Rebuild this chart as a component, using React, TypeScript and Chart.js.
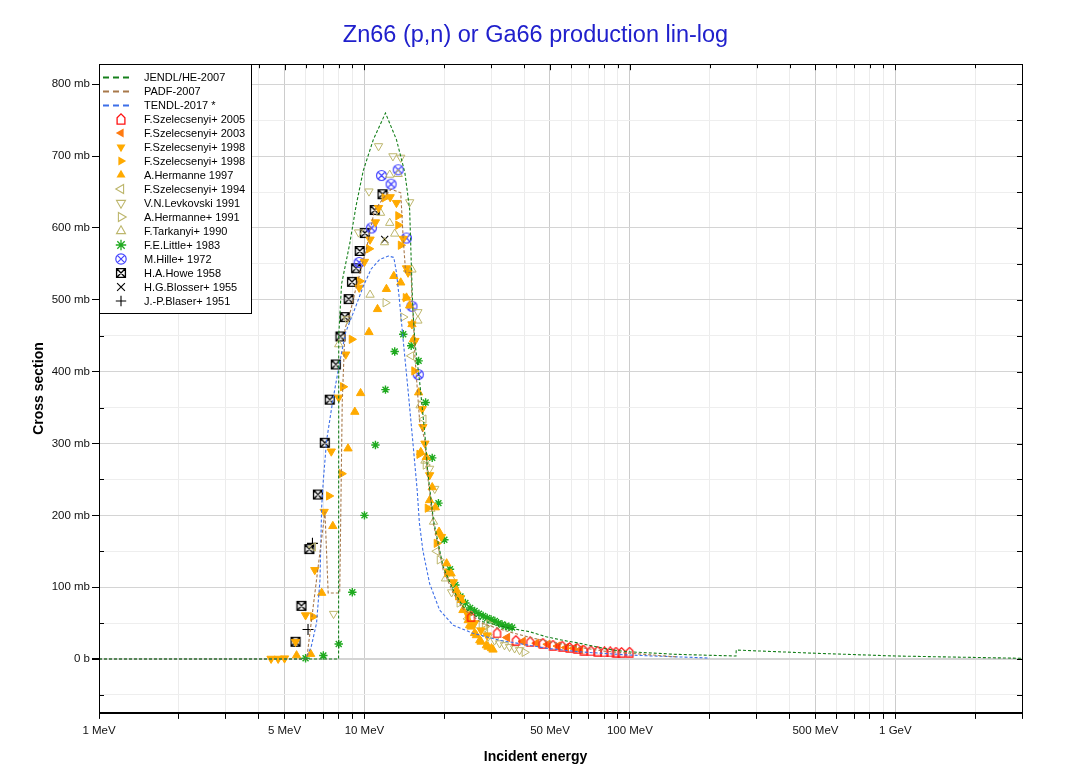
import React, { useEffect, useRef } from 'react';
import { Chart, registerables } from 'chart.js';

Chart.register(...registerables);

const FONT = "'Liberation Sans', Arial, Helvetica, sans-serif";
Chart.defaults.font.family = FONT;

// ---------- texts ----------
const titleText = 'Zn66 (p,n) or Ga66 production lin-log';
const xAxisTitle = 'Incident energy';
const yAxisTitle = 'Cross section';

// ---------- axes ----------
const xMin = 1;
const xMax = 3000;
const yMin = -75;
const yMax = 828;
const xTickValues = [1, 2, 3, 4, 5, 6, 7, 8, 9, 10, 20, 30, 40, 50, 60, 70, 80, 90, 100, 200, 300, 400, 500, 600, 700, 800, 900, 1000, 2000, 3000];
const xLabelValues = [1, 5, 10, 50, 100, 500, 1000];
const xLabelTexts = ['1 MeV', '5 MeV', '10 MeV', '50 MeV', '100 MeV', '500 MeV', '1 GeV'];
const yTickValues = [-50, 0, 50, 100, 150, 200, 250, 300, 350, 400, 450, 500, 550, 600, 650, 700, 750, 800];
const yLabelValues = [0, 100, 200, 300, 400, 500, 600, 700, 800];
const yLabelTexts = ['0 b', '100 mb', '200 mb', '300 mb', '400 mb', '500 mb', '600 mb', '700 mb', '800 mb'];

// ---------- evaluations [E (MeV), sigma (mb)] ----------
const jendlHe2007 = [
  [1, 0], [7.99, 0], [8.0, 450], [8.2, 522], [8.8, 578], [9.3, 631], [9.9, 680], [10.8, 723], [12.0, 760],
  [13.2, 723], [14.2, 677], [14.8, 626], [15.0, 555], [15.2, 490], [15.5, 440], [16.15, 385], [16.9, 312],
  [17.3, 262], [18.2, 193], [19.8, 128], [21.6, 96], [23.5, 73], [28, 52], [35.2, 43], [41.9, 38], [48.4, 31],
  [56, 26], [64.6, 22], [74.6, 17], [86.2, 12.5], [100, 10], [150, 6.5], [251, 4.2], [251.5, 12.5], [500, 8],
  [1000, 4.2], [3000, 1],
];
const padf2007 = [
  [1, 0], [6.06, 0], [7.1, 205], [7.3, 92], [8.07, 92], [8.25, 360], [8.45, 460], [8.8, 480], [9.3, 517],
  [10.2, 573], [10.9, 624], [11.8, 642], [12.6, 654], [13.7, 649], [14.0, 584], [14.3, 538], [15.0, 538],
  [15.1, 500], [15.3, 470], [15.5, 420], [16.15, 330], [16.9, 305], [17.3, 255], [18.2, 188], [19.8, 124],
  [21.6, 92], [23.5, 70], [28, 49], [35, 38], [42, 30], [50, 24], [65, 16], [80, 11], [100, 8], [150, 3],
];
const tendl2017 = [
  [1, 0], [6.0, 0], [6.3, 17], [6.6, 50], [6.8, 110], [6.9, 212], [7.0, 249], [7.2, 304], [7.6, 360], [8.0, 406],
  [8.5, 455], [9.3, 492], [9.9, 519], [10.6, 543], [11.4, 556], [12.3, 561], [12.9, 559], [13.2, 538],
  [13.5, 505], [14.0, 443], [14.6, 374], [15.2, 304], [15.8, 235], [16.1, 190], [16.6, 151], [17.6, 105],
  [19.2, 68], [21.6, 47], [25.6, 36], [32.3, 26], [36.3, 23], [48.4, 15], [64.6, 10], [100, 5.5], [150, 3], [200, 1.4],
];

// ---------- experiments [E (MeV), sigma (mb)] ----------
const szelecsenyi2005 = [
  [25.2, 59], [31.6, 36.5], [37.2, 26], [42.1, 24], [47, 22], [51.3, 19.4], [55.6, 18], [59.3, 16], [63.3, 15],
  [67, 12.5], [71.3, 11.5], [75.6, 11], [80.2, 10], [84.3, 10], [88.6, 9.7], [93, 9.3], [99.7, 9.7],
];
const szelecsenyi2003 = [
  [34.5, 30], [39.5, 24.5], [44.5, 22], [49, 20.5], [53.5, 18], [57.5, 16], [61.5, 15], [65, 13],
];
const szelecsenyi1998a = [
  [4.45, 0.5], [4.73, 0.5], [5.0, 1], [5.5, 24], [6.0, 61], [6.5, 124], [7.05, 205], [7.5, 289], [8.0, 364],
  [8.5, 424], [9.55, 517], [10.0, 553], [10.5, 584], [11.0, 608], [11.3, 628], [12.5, 643], [13.2, 635],
  [14.0, 585], [14.4, 544], [14.6, 538], [15.1, 466], [15.5, 443], [16.5, 348], [16.6, 323], [16.9, 300],
  [17.6, 256], [19.5, 170], [21.6, 107], [23, 85], [24.5, 62], [26, 50], [27.5, 40], [29, 33],
];
const szelecsenyi1998b = [
  [6.4, 59], [7.35, 227], [8.2, 258], [8.3, 379], [8.95, 445], [9.6, 526], [10.4, 571], [11.9, 642], [13.4, 617],
  [13.4, 604], [13.7, 576], [14.3, 503], [15.4, 401], [16.1, 285], [17.3, 210], [18.7, 161], [20.5, 120],
  [22.5, 88], [24.5, 62],
];
const hermanne1997 = [
  [5.55, 5], [6.27, 7], [6.9, 92], [7.6, 185], [8.67, 293], [9.2, 344], [9.67, 370], [10.4, 455], [11.2, 487],
  [12.1, 515], [12.9, 533], [13.7, 524], [14.4, 503], [14.8, 492], [15.1, 466], [15.3, 445], [16.0, 371],
  [16.3, 288], [17.1, 281], [17.6, 221], [18.0, 239], [18.5, 211], [19.1, 177], [20.4, 133], [21.2, 119],
  [22.2, 96], [23.2, 82], [23.5, 68], [24.6, 54], [24.9, 47], [25.2, 45], [26, 36], [26.4, 33], [27.2, 26],
  [27.5, 24], [28.8, 19], [29.2, 17], [30.1, 15], [30.5, 13],
];
const szelecsenyi1994 = [
  [6.4, 156], [14.6, 540], [15.0, 422], [16.7, 334], [18.7, 150], [24.5, 56], [26.5, 47], [28.5, 42],
];
const levkovski1991 = [
  [7.65, 63], [8.6, 473], [9.5, 594], [10.4, 651], [11.3, 714], [12.8, 700], [13.7, 698], [14.8, 636],
  [15.9, 483], [17.6, 265], [18.4, 237], [21.3, 93], [27.9, 38], [29.2, 31], [30.9, 26], [32.3, 22],
  [33.7, 19.4], [35.2, 17], [36.8, 15], [38.4, 12.5],
];
const hermanne1991 = [
  [12.0, 496], [14.0, 476], [17.0, 270], [19.2, 138], [22.8, 78], [28.4, 45], [29.5, 49], [40.1, 9.3],
];
const tarkanyi1990 = [
  [8.0, 438], [10.5, 507], [11.5, 621], [11.9, 580], [12.45, 607], [12.45, 674], [13.0, 592], [13.4, 675],
  [15.1, 542], [15.9, 471], [16.2, 353], [16.9, 276], [17.8, 209], [18.2, 191], [20.2, 112], [21.2, 113],
];
const little1983 = [
  [6, 1], [7, 5], [8, 21], [9, 93], [10, 200], [11, 298], [12, 375], [13, 428], [14, 452], [15, 436], [16, 415],
  [17, 357], [18, 280], [19, 217], [20, 166], [21, 125], [22, 103], [23, 87], [24, 78], [25, 71], [26, 67],
  [27, 63], [28, 60], [29, 57], [30, 55], [31, 53], [32, 50], [33, 48], [34, 46], [35, 45], [36, 44],
];
const hille1972 = [
  [9.55, 552], [10.62, 600], [11.6, 673], [12.6, 661], [13.4, 681], [14.4, 586], [15.1, 491], [15.95, 396],
];
const howe1958 = [
  [5.5, 24], [5.79, 74], [6.2, 153], [6.68, 229], [7.09, 301], [7.4, 361], [7.8, 410], [8.12, 449], [8.43, 476],
  [8.72, 501], [8.98, 525], [9.3, 544], [9.6, 568], [10.03, 593], [10.93, 625], [11.7, 647],
];
const blosser1955 = [[11.92, 584]];
const blaser1951 = [[6.13, 41], [6.37, 161]];

// ---------- series styles ----------
const lineDefs = [
  { label: 'JENDL/HE-2007', data: jendlHe2007, color: '#16801c' },
  { label: 'PADF-2007', data: padf2007, color: '#a8784a' },
  { label: 'TENDL-2017 *', data: tendl2017, color: '#3d6fe8' },
];
const ORANGE = '#ffaa00';
const OLIVE = '#bdb66c';
const markerDefs = [
  { label: 'F.Szelecsenyi+ 2005', data: szelecsenyi2005, kind: 'house', color: '#ff1010', filled: false },
  { label: 'F.Szelecsenyi+ 2003', data: szelecsenyi2003, kind: 'triLeft', color: '#ff7a10', filled: true },
  { label: 'F.Szelecsenyi+ 1998', data: szelecsenyi1998a, kind: 'triDown', color: ORANGE, filled: true },
  { label: 'F.Szelecsenyi+ 1998', data: szelecsenyi1998b, kind: 'triRight', color: ORANGE, filled: true },
  { label: 'A.Hermanne 1997', data: hermanne1997, kind: 'triUp', color: ORANGE, filled: true },
  { label: 'F.Szelecsenyi+ 1994', data: szelecsenyi1994, kind: 'triLeft', color: OLIVE, filled: false },
  { label: 'V.N.Levkovski 1991', data: levkovski1991, kind: 'triDown', color: OLIVE, filled: false },
  { label: 'A.Hermanne+ 1991', data: hermanne1991, kind: 'triRight', color: OLIVE, filled: false },
  { label: 'F.Tarkanyi+ 1990', data: tarkanyi1990, kind: 'triUp', color: OLIVE, filled: false },
  { label: 'F.E.Little+ 1983', data: little1983, kind: 'star', color: '#1faa1f', filled: false },
  { label: 'M.Hille+ 1972', data: hille1972, kind: 'circX', color: '#4646ff', filled: false },
  { label: 'H.A.Howe 1958', data: howe1958, kind: 'boxX', color: '#000000', filled: false },
  { label: 'H.G.Blosser+ 1955', data: blosser1955, kind: 'x', color: '#000000', filled: false },
  { label: 'J.-P.Blaser+ 1951', data: blaser1951, kind: 'plus', color: '#000000', filled: false },
];

const triRot: any = { triUp: 0, triRight: 90, triDown: 180, triLeft: 270 };

function drawMarker(ctx: any, kind: string, x: number, y: number, color: string, r: number, filled: boolean) {
  ctx.save();
  ctx.translate(x, y);
  ctx.strokeStyle = color;
  ctx.fillStyle = color;
  ctx.lineWidth = 1.1;
  ctx.setLineDash([]);
  ctx.beginPath();
  if (kind in triRot) {
    ctx.rotate((triRot[kind] * Math.PI) / 180);
    for (let k = 0; k < 3; k++) {
      const a = (k * 2 * Math.PI) / 3;
      const px = Math.sin(a) * r;
      const py = -Math.cos(a) * r;
      if (k === 0) ctx.moveTo(px, py);
      else ctx.lineTo(px, py);
    }
    ctx.closePath();
    if (filled) ctx.fill();
    else ctx.stroke();
  } else if (kind === 'house') {
    const w = r * 0.75;
    ctx.moveTo(-w, r);
    ctx.lineTo(-w, -r * 0.25);
    ctx.lineTo(0, -r);
    ctx.lineTo(w, -r * 0.25);
    ctx.lineTo(w, r);
    ctx.closePath();
    ctx.lineWidth = 1.3;
    ctx.stroke();
  } else if (kind === 'circX') {
    ctx.arc(0, 0, r, 0, Math.PI * 2);
    const d = r * 0.7;
    ctx.moveTo(-d, -d); ctx.lineTo(d, d);
    ctx.moveTo(d, -d); ctx.lineTo(-d, d);
    ctx.lineWidth = 1.2;
    ctx.stroke();
  } else if (kind === 'boxX') {
    const d = r * 0.85;
    ctx.rect(-d, -d, 2 * d, 2 * d);
    ctx.moveTo(-d, -d); ctx.lineTo(d, d);
    ctx.moveTo(d, -d); ctx.lineTo(-d, d);
    ctx.lineWidth = 1.3;
    ctx.stroke();
  } else if (kind === 'star') {
    for (let k = 0; k < 4; k++) {
      const a = (k * Math.PI) / 4;
      ctx.moveTo(Math.cos(a) * r, Math.sin(a) * r);
      ctx.lineTo(-Math.cos(a) * r, -Math.sin(a) * r);
    }
    ctx.lineWidth = 1.3;
    ctx.stroke();
  } else if (kind === 'x') {
    const d = r * 0.75;
    ctx.moveTo(-d, -d); ctx.lineTo(d, d);
    ctx.moveTo(d, -d); ctx.lineTo(-d, d);
    ctx.stroke();
  } else if (kind === 'plus') {
    ctx.moveTo(-r, 0); ctx.lineTo(r, 0);
    ctx.moveTo(0, -r); ctx.lineTo(0, r);
    ctx.stroke();
  }
  ctx.restore();
}

function makeImage(kind: string, color: string, size: number, r: number) {
  const c = document.createElement('canvas');
  c.width = size;
  c.height = size;
  const ctx = c.getContext('2d');
  drawMarker(ctx, kind, size / 2, size / 2, color, r, false);
  return c;
}

const frameLegendPlugin = {
  id: 'frameLegend',
  afterDraw(chart: any) {
    const { ctx, chartArea: a, scales } = chart;
    const xs = scales.x;
    const ys = scales.y;
    ctx.save();
    ctx.strokeStyle = '#000';
    ctx.lineWidth = 1;
    ctx.setLineDash([]);
    ctx.beginPath();
    xTickValues.forEach((v) => {
      const px = Math.round(xs.getPixelForValue(v)) + 0.5;
      const len = xLabelValues.includes(v) ? 6 : 4;
      ctx.moveTo(px, a.top);
      ctx.lineTo(px, a.top + len);
    });
    yTickValues.forEach((v) => {
      const py = Math.round(ys.getPixelForValue(v)) + 0.5;
      ctx.moveTo(a.right, py);
      ctx.lineTo(a.right - 5, py);
      if (v % 100 !== 0) {
        ctx.moveTo(a.left, py);
        ctx.lineTo(a.left + 5, py);
      }
    });
    ctx.stroke();

    // legend box
    const L = Math.round(a.left);
    const T = Math.round(a.top);
    const W = 152;
    const H = 249;
    ctx.fillStyle = '#ffffff';
    ctx.fillRect(L, T, W, H);
    ctx.strokeStyle = '#000';
    ctx.strokeRect(L + 0.5, T + 0.5, W, H);
    ctx.font = `11px ${FONT}`;
    ctx.textBaseline = 'middle';
    ctx.textAlign = 'left';
    const items: any[] = [
      ...lineDefs.map((d) => ({ ...d, line: true })),
      ...markerDefs.map((d) => ({ ...d, line: false })),
    ];
    items.forEach((it, i) => {
      const y = T + 13 + 14 * i;
      if (it.line) {
        ctx.save();
        ctx.strokeStyle = it.color;
        ctx.lineWidth = 1.8;
        ctx.setLineDash([6, 4]);
        ctx.beginPath();
        ctx.moveTo(L + 4, y + 0.5);
        ctx.lineTo(L + 32, y + 0.5);
        ctx.stroke();
        ctx.restore();
      } else {
        drawMarker(ctx, it.kind, L + 22, y, it.color, 5.2, it.filled);
      }
      ctx.fillStyle = '#000';
      ctx.fillText(it.label, L + 45, y + 0.5);
    });

    // frame
    ctx.strokeStyle = '#000';
    ctx.lineWidth = 1;
    ctx.strokeRect(L + 0.5, T + 0.5, Math.round(a.right) - L, Math.round(a.bottom) - T);
    ctx.restore();
  },
};

export default function App() {
  const ref = useRef<HTMLCanvasElement>(null);

  useEffect(() => {
    const images: any = {
      house: makeImage('house', '#ff1010', 11, 4.6),
      circX: makeImage('circX', '#4646ff', 13, 5),
      boxX: makeImage('boxX', '#000000', 12, 5.2),
    };

    const lineSets = lineDefs.map((d) => ({
      label: d.label,
      data: d.data.map(([x, y]) => ({ x, y })),
      showLine: true,
      borderColor: d.color,
      backgroundColor: d.color,
      borderWidth: 1.1,
      borderDash: [3, 2],
      pointRadius: 0,
      tension: 0,
      fill: false,
    }));

    const markerSets = markerDefs.map((d) => {
      const base: any = {
        label: d.label,
        data: d.data.map(([x, y]) => ({ x, y })),
        showLine: false,
        pointBorderColor: d.color,
        borderColor: d.color,
        pointBackgroundColor: d.filled ? d.color : 'rgba(0,0,0,0)',
        backgroundColor: d.filled ? d.color : 'rgba(0,0,0,0)',
        pointBorderWidth: 1,
        pointRadius: 4.8,
        pointRotation: 0,
      };
      if (d.kind in triRot) {
        base.pointStyle = 'triangle';
        base.pointRotation = triRot[d.kind];
      } else if (d.kind === 'star') {
        base.pointStyle = 'star';
        base.pointRadius = 4.2;
        base.pointBorderWidth = 1.4;
      } else if (d.kind === 'x') {
        base.pointStyle = 'crossRot';
        base.pointRadius = 5;
        base.pointBorderWidth = 1.1;
      } else if (d.kind === 'plus') {
        base.pointStyle = 'cross';
        base.pointRadius = 5.5;
        base.pointBorderWidth = 1.1;
      } else {
        base.pointStyle = images[d.kind];
        base.pointRadius = 5;
      }
      return base;
    });

    const chart = new Chart(ref.current as HTMLCanvasElement, {
      type: 'scatter',
      data: { datasets: [...lineSets, ...markerSets] as any },
      options: {
        animation: false,
        responsive: true,
        maintainAspectRatio: false,
        events: [],
        layout: { padding: { left: 0, right: 0, top: 0, bottom: 0 } },
        plugins: {
          legend: { display: false },
          tooltip: { enabled: false },
          title: {
            display: true,
            text: titleText,
            color: '#2020cc',
            font: { size: 23.5, weight: 'normal', family: FONT },
            padding: { top: 13, bottom: 15 },
          },
          subtitle: {
            display: true,
            position: 'bottom',
            text: xAxisTitle,
            color: '#000',
            font: { size: 14, weight: 'bold', family: FONT },
            padding: { top: 6.5, bottom: -1 },
          },
        },
        scales: {
          x: {
            type: 'logarithmic',
            min: xMin,
            max: xMax,
            afterBuildTicks: (axis: any) => {
              axis.ticks = xTickValues.map((v) => ({ value: v }));
            },
            ticks: {
              autoSkip: false,
              maxRotation: 0,
              minRotation: 0,
              color: '#111',
              font: { size: 11.5 },
              padding: 5,
              callback: (v: any) => {
                const i = xLabelValues.indexOf(Number(v));
                return i >= 0 ? xLabelTexts[i] : '';
              },
            },
            grid: {
              color: (c: any) => (c.tick && xLabelValues.includes(c.tick.value) ? '#cccccc' : '#ececec'),
              tickColor: '#000',
              tickLength: 6,
            },
            border: { color: '#000', width: 1 },
          },
          y: {
            type: 'linear',
            min: yMin,
            max: yMax,
            afterBuildTicks: (axis: any) => {
              axis.ticks = yTickValues.map((v) => ({ value: v }));
            },
            afterFit: (axis: any) => {
              axis.width = 91;
            },
            ticks: {
              autoSkip: false,
              color: '#111',
              font: { size: 11.5 },
              padding: 2,
              callback: (v: any) => {
                const i = yLabelValues.indexOf(Number(v));
                return i >= 0 ? yLabelTexts[i] : '';
              },
            },
            grid: {
              color: (c: any) => (c.tick && c.tick.value % 100 === 0 ? '#d4d4d4' : '#eeeeee'),
              lineWidth: (c: any) => (c.tick && c.tick.value === 0 ? 2 : 1),
              tickColor: (c: any) => (c.tick && c.tick.value % 100 === 0 ? '#000' : 'rgba(0,0,0,0)'),
              tickLength: 7,
            },
            border: { color: '#000', width: 1 },
            title: {
              display: true,
              text: yAxisTitle,
              color: '#000',
              font: { size: 14, weight: 'bold', family: FONT },
              padding: { top: 22.6, bottom: 4 },
            },
          },
          yRight: {
            type: 'linear',
            position: 'right',
            display: true,
            min: yMin,
            max: yMax,
            afterFit: (axis: any) => {
              axis.width = 41;
            },
            ticks: { display: false },
            grid: { display: false, drawTicks: false },
            border: { display: false },
          },
        },
      } as any,
      plugins: [frameLegendPlugin],
    });
    return () => chart.destroy();
  }, []);

  return (
    <div style={{ position: 'relative', width: '100%', height: 757 }}>
      <canvas ref={ref} />
    </div>
  );
}
